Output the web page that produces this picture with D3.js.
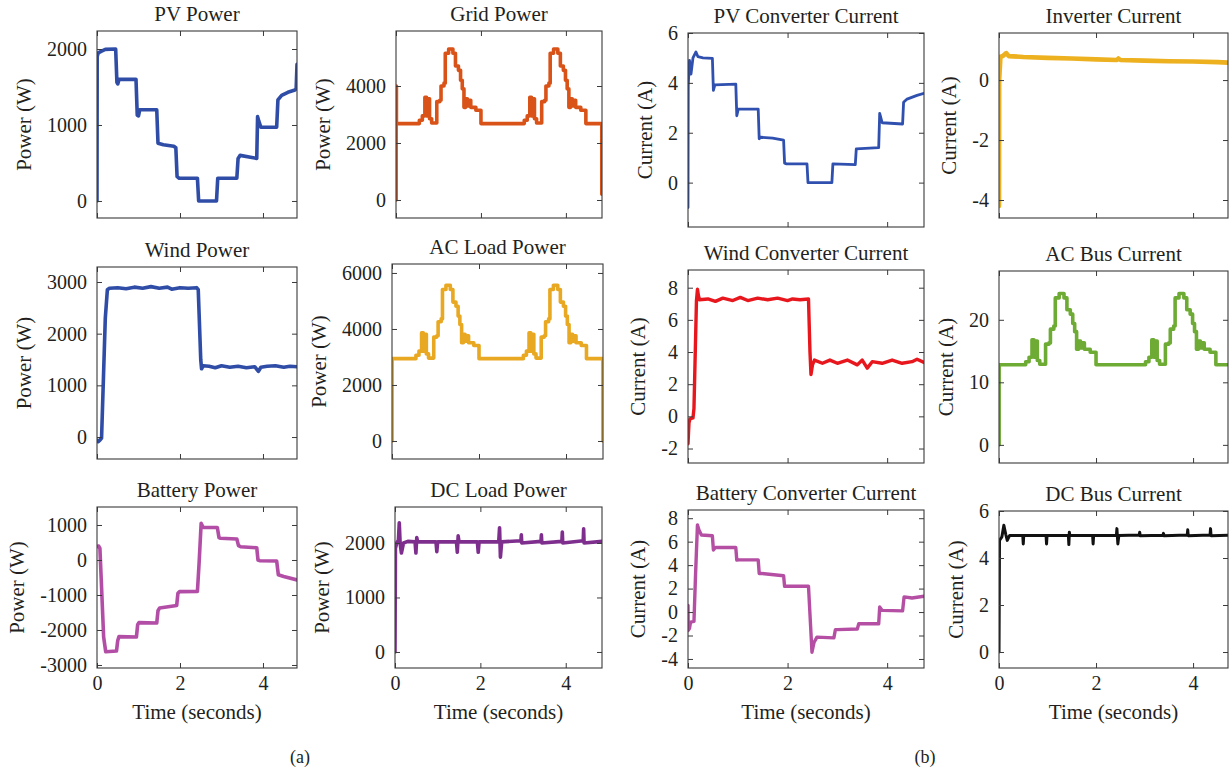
<!DOCTYPE html>
<html>
<head>
<meta charset="utf-8">
<script src="https://cdn.jsdelivr.net/npm/d3@7"></script>
<style>
  body { margin: 0; background: #fff; }
  text { font-family: "Liberation Serif", "Times New Roman", serif; fill: #231f20; }
</style>
</head>
<body>
<svg id="fig" width="1229" height="773"></svg>
<script>
// ---- shared time axis ----
const timeTicks = [0, 2, 4];

// ---- (a) power traces: [time (s), power (W)] ----
const pvPower = [[0,0],[0.005,1900],[0.03,1950],[0.1,1970],[0.2,1995],[0.45,2000],[0.48,1560],[0.5,1540],[0.53,1600],[0.94,1600],[0.97,1130],[1.0,1120],[1.03,1200],[1.44,1200],[1.47,760],[1.6,740],[1.85,720],[1.9,700],[1.93,320],[1.98,300],[2.42,300],[2.45,0],[2.88,0],[2.91,300],[3.37,300],[3.40,560],[3.45,600],[3.85,560],[3.87,1110],[3.90,1050],[3.95,970],[4.33,970],[4.36,1330],[4.45,1390],[4.6,1430],[4.77,1460],[4.80,1480],[4.82,1800]];
const gridPower = [[0,0],[0.003,4000],[0.01,2680],[0.55,2800],[0.62,2950],[0.68,3600],[0.72,2950],[0.75,3550],[0.79,2850],[0.84,2700],[0.96,3450],[1.03,3500],[1.06,4000],[1.13,4100],[1.16,5150],[1.24,5300],[1.34,5150],[1.40,4700],[1.47,4550],[1.52,4200],[1.56,3900],[1.60,3250],[1.64,3550],[1.68,3300],[1.72,3500],[1.76,3250],[1.88,3150],[2.00,2680],[3.02,2800],[3.09,2950],[3.15,3600],[3.19,2950],[3.22,3550],[3.26,2850],[3.31,2700],[3.43,3450],[3.50,3500],[3.53,4000],[3.60,4100],[3.63,5150],[3.71,5300],[3.81,5150],[3.87,4700],[3.94,4550],[3.99,4200],[4.03,3900],[4.07,3250],[4.11,3550],[4.15,3300],[4.19,3500],[4.23,3250],[4.35,3150],[4.47,2680],[4.84,2680],[4.845,200]];
const windPower = [[0,-60],[0.03,-90],[0.08,-50],[0.11,-20],[0.2,2300],[0.25,2850],[0.3,2880],[0.5,2890],[0.7,2870],[0.9,2900],[1.1,2880],[1.3,2910],[1.5,2880],[1.7,2900],[1.8,2860],[2.0,2890],[2.2,2880],[2.4,2890],[2.44,2850],[2.5,1500],[2.52,1320],[2.56,1380],[2.7,1370],[2.85,1340],[3.0,1380],[3.2,1350],[3.4,1370],[3.6,1340],[3.8,1360],[3.89,1270],[3.95,1350],[4.1,1370],[4.3,1380],[4.5,1350],[4.65,1370],[4.82,1360]];
const acLoadPower = [[0,0],[0.003,2940],[0.55,3060],[0.62,3210],[0.68,3860],[0.72,3210],[0.75,3810],[0.79,3110],[0.84,2960],[0.96,3710],[1.03,3760],[1.06,4260],[1.13,4360],[1.16,5410],[1.24,5560],[1.34,5410],[1.40,4960],[1.47,4810],[1.52,4460],[1.56,4160],[1.60,3510],[1.64,3810],[1.68,3560],[1.72,3760],[1.76,3510],[1.88,3410],[2.00,2940],[3.02,3060],[3.09,3210],[3.15,3860],[3.19,3210],[3.22,3810],[3.26,3110],[3.31,2960],[3.43,3710],[3.50,3760],[3.53,4260],[3.60,4360],[3.63,5410],[3.71,5560],[3.81,5410],[3.87,4960],[3.94,4810],[3.99,4460],[4.03,4160],[4.07,3510],[4.11,3810],[4.15,3560],[4.19,3760],[4.23,3510],[4.35,3410],[4.47,2940],[4.84,2940],[4.845,0]];
const batteryPower = [[0,380],[0.04,400],[0.07,330],[0.1,-500],[0.16,-2200],[0.21,-2620],[0.47,-2600],[0.5,-2300],[0.53,-2190],[0.95,-2200],[0.98,-1850],[1.01,-1790],[1.44,-1800],[1.47,-1450],[1.51,-1370],[1.92,-1300],[1.95,-950],[1.99,-904],[2.42,-900],[2.46,-100],[2.51,1047],[2.56,930],[2.9,930],[2.94,640],[2.98,619],[3.37,600],[3.41,410],[3.46,380],[3.85,350],[3.88,0],[3.92,-20],[4.33,-30],[4.37,-420],[4.5,-470],[4.82,-570]];
const dcLoadPower = [[0,0],[0.01,1900],[0.04,2000],[0.08,2050],[0.1,2370],[0.12,2000],[0.15,1815],[0.2,2000],[0.3,2030],[0.47,2020],[0.49,1815],[0.51,2100],[0.53,2020],[0.96,2020],[0.98,1840],[1.0,2020],[1.44,2020],[1.46,1830],[1.48,2130],[1.5,2020],[1.93,2020],[1.95,1830],[1.97,2020],[2.43,2020],[2.45,2280],[2.47,1740],[2.5,2020],[2.95,2040],[2.96,2150],[2.97,2000],[3.42,2030],[3.43,2150],[3.44,2000],[3.91,2030],[3.92,2200],[3.93,2000],[4.41,2040],[4.42,2260],[4.43,2000],[4.85,2030]];

// ---- (b) current traces: [time (s), current (A)] ----
const pvConverterCurrent = [[0,-1.0],[0.005,3.9],[0.03,4.9],[0.06,4.35],[0.1,5.0],[0.16,5.24],[0.2,5.05],[0.3,5.0],[0.49,4.98],[0.51,3.7],[0.54,3.92],[0.96,3.95],[0.98,2.68],[1.01,2.95],[1.41,2.95],[1.43,1.76],[1.46,1.82],[1.7,1.78],[1.92,1.7],[1.94,0.78],[1.98,0.75],[2.39,0.75],[2.41,0],[2.89,0],[2.91,0.75],[3.36,0.72],[3.38,1.35],[3.83,1.4],[3.85,2.78],[3.9,2.4],[4.31,2.35],[4.33,3.22],[4.4,3.35],[4.6,3.5],[4.74,3.58]];
const inverterCurrent = [[0,-4.2],[0.003,0],[0.03,0.78],[0.08,0.8],[0.15,0.9],[0.2,0.8],[0.5,0.77],[1.0,0.74],[1.5,0.72],[2.0,0.69],[2.43,0.67],[2.46,0.72],[2.5,0.67],[3.0,0.65],[3.5,0.63],[4.0,0.62],[4.5,0.60],[4.73,0.58]];
const windConverterCurrent = [[0,-1.7],[0.02,-0.4],[0.04,-0.15],[0.1,-0.1],[0.12,0.5],[0.17,7.2],[0.19,7.9],[0.21,7.5],[0.23,7.25],[0.4,7.3],[0.55,7.15],[0.7,7.35],[0.9,7.2],[1.05,7.4],[1.2,7.2],[1.4,7.35],[1.6,7.25],[1.8,7.35],[2.0,7.2],[2.1,7.3],[2.25,7.25],[2.42,7.3],[2.45,4],[2.47,2.6],[2.5,3.2],[2.54,3.5],[2.7,3.3],[2.85,3.5],[3.0,3.3],[3.2,3.5],[3.4,3.2],[3.5,3.5],[3.6,3.0],[3.7,3.4],[3.9,3.3],[4.1,3.5],[4.3,3.3],[4.5,3.4],[4.6,3.55],[4.74,3.35]];
const acBusCurrent = [[0,0],[0.003,12.8],[0.55,13.3],[0.62,14.0],[0.68,16.8],[0.72,14.0],[0.75,16.6],[0.79,13.5],[0.84,12.9],[0.96,16.1],[1.03,16.3],[1.06,18.5],[1.13,19.0],[1.16,23.5],[1.24,24.2],[1.34,23.5],[1.40,21.6],[1.47,20.9],[1.52,19.4],[1.56,18.1],[1.60,15.3],[1.64,16.6],[1.68,15.5],[1.72,16.3],[1.76,15.3],[1.88,14.8],[2.00,12.8],[3.02,13.3],[3.09,14.0],[3.15,16.8],[3.19,14.0],[3.22,16.6],[3.26,13.5],[3.31,12.9],[3.43,16.1],[3.50,16.3],[3.53,18.5],[3.60,19.0],[3.63,23.5],[3.71,24.2],[3.81,23.5],[3.87,21.6],[3.94,20.9],[3.99,19.4],[4.03,18.1],[4.07,15.3],[4.11,16.6],[4.15,15.5],[4.19,16.3],[4.23,15.3],[4.35,14.8],[4.47,12.8],[4.73,12.8]];
const batteryConverterCurrent = [[0,0.57],[0.005,-1.57],[0.03,-1.4],[0.05,-0.86],[0.12,-0.8],[0.15,3],[0.19,7.43],[0.22,7.0],[0.27,6.57],[0.49,6.5],[0.51,5.29],[0.55,5.5],[0.96,5.5],[0.98,4.43],[1.02,4.45],[1.41,4.45],[1.43,3.29],[1.47,3.3],[1.92,3.1],[1.94,2.2],[1.98,2.2],[2.42,2.2],[2.46,-1],[2.49,-3.43],[2.53,-2.6],[2.59,-2.14],[2.93,-2.2],[2.96,-1.51],[3.0,-1.5],[3.4,-1.45],[3.43,-1.0],[3.83,-1.0],[3.85,0.43],[3.9,0.14],[4.31,0.1],[4.34,1.29],[4.5,1.2],[4.74,1.35]];
const dcBusCurrent = [[0,0],[0.01,4.75],[0.06,4.9],[0.1,5.39],[0.14,5.0],[0.17,4.75],[0.22,4.96],[0.49,4.96],[0.5,4.6],[0.51,4.96],[0.97,4.96],[0.98,4.6],[0.99,4.96],[1.43,4.96],[1.44,4.57],[1.45,5.1],[1.46,4.96],[1.93,4.96],[1.94,4.6],[1.95,4.96],[2.42,4.96],[2.43,5.25],[2.45,4.6],[2.47,4.96],[2.89,4.98],[2.9,5.1],[2.91,4.95],[3.38,4.97],[3.39,5.05],[3.4,4.95],[3.88,4.98],[3.89,5.2],[3.9,4.95],[4.35,4.98],[4.36,5.25],[4.37,4.95],[4.73,4.97]];

// ---- y tick values ----
const pvPowerTicks = [0, 1000, 2000];
const gridPowerTicks = [0, 2000, 4000];
const windPowerTicks = [0, 1000, 2000, 3000];
const acLoadPowerTicks = [0, 2000, 4000, 6000];
const batteryPowerTicks = [-3000, -2000, -1000, 0, 1000];
const dcLoadPowerTicks = [0, 1000, 2000];
const pvConverterTicks = [0, 2, 4, 6];
const inverterTicks = [-4, -2, 0];
const windConverterTicks = [-2, 0, 2, 4, 6, 8];
const acBusTicks = [0, 10, 20];
const batteryConverterTicks = [-4, -2, 0, 2, 4, 6, 8];
const dcBusTicks = [0, 2, 4, 6];

// ---- panel layout: box = [left, top, right, bottom] in px ----
const panels = [
  { title: "PV Power", data: pvPower, ticks: pvPowerTicks, ylabel: "Power (W)", color: "#2f4da6", box: [97, 31, 297, 218], xMax: 4.82, yDom: [-224, 2237], sw: 3.6 },
  { title: "Grid Power", data: gridPower, ticks: gridPowerTicks, ylabel: "Power (W)", color: "#d95319", box: [396, 31, 602, 218], xMax: 4.85, yDom: [-632, 5930], sw: 3.6, step: true },
  { title: "PV Converter Current", data: pvConverterCurrent, ticks: pvConverterTicks, ylabel: "Current (A)", color: "#3050b0", box: [688, 33, 924, 227], xMax: 4.74, yDom: [-1.78, 6.0], sw: 2.8 },
  { title: "Inverter Current", data: inverterCurrent, ticks: inverterTicks, ylabel: "Current (A)", color: "#edb120", box: [999, 33, 1228, 218], xMax: 4.72, yDom: [-4.6, 1.57], sw: 4.6 },
  { title: "Wind Power", data: windPower, ticks: windPowerTicks, ylabel: "Power (W)", color: "#2f4da6", box: [97, 267, 297, 459], xMax: 4.82, yDom: [-425, 3290], sw: 3.6 },
  { title: "AC Load Power", data: acLoadPower, ticks: acLoadPowerTicks, ylabel: "Power (W)", color: "#e9a822", box: [392, 264, 603, 459], xMax: 4.85, yDom: [-643, 6320], sw: 3.6, step: true },
  { title: "Wind Converter Current", data: windConverterCurrent, ticks: windConverterTicks, ylabel: "Current (A)", color: "#e8171e", box: [688, 270, 924, 463], xMax: 4.74, yDom: [-2.9, 9.1], sw: 3.4 },
  { title: "AC Bus Current", data: acBusCurrent, ticks: acBusTicks, ylabel: "Current (A)", color: "#6eab35", box: [999, 271, 1228, 463], xMax: 4.72, yDom: [-2.9, 27.8], sw: 3.6, step: true },
  { title: "Battery Power", data: batteryPower, ticks: batteryPowerTicks, ylabel: "Power (W)", color: "#b34ea6", box: [97, 507, 297, 668], xMax: 4.82, yDom: [-3086, 1514], sw: 3.6, bottom: true },
  { title: "DC Load Power", data: dcLoadPower, ticks: dcLoadPowerTicks, ylabel: "Power (W)", color: "#7e2f8e", box: [395, 507, 602, 668], xMax: 4.85, yDom: [-294, 2660], sw: 3.6, bottom: true },
  { title: "Battery Converter Current", data: batteryConverterCurrent, ticks: batteryConverterTicks, ylabel: "Current (A)", color: "#b54fa3", box: [688, 510, 924, 668], xMax: 4.74, yDom: [-4.77, 8.7], sw: 3.4, bottom: true },
  { title: "DC Bus Current", data: dcBusCurrent, ticks: dcBusTicks, ylabel: "Current (A)", color: "#111111", box: [999, 511, 1228, 668], xMax: 4.72, yDom: [-0.68, 6.0], sw: 3.0, bottom: true }
];

const svg = d3.select("#fig");
svg.append("rect").attr("width", 1229).attr("height", 773).attr("fill", "#fff");

const axisColor = "#3a3a3a";
const fmt = d => String(d); // plain hyphen minus

panels.forEach((p, i) => {
  const [x0, y0, x1, y1] = p.box;
  const x = d3.scaleLinear().domain([0, p.xMax]).range([x0, x1]);
  const y = d3.scaleLinear().domain(p.yDom).range([y1, y0]);
  const g = svg.append("g");

  // clip region for the trace
  const clipId = "clip" + i;
  svg.append("clipPath").attr("id", clipId)
    .append("rect").attr("x", x0).attr("y", y0).attr("width", x1 - x0).attr("height", y1 - y0);

  // trace
  const line = d3.line()
    .x(d => x(d[0])).y(d => y(d[1]))
    .curve(p.step ? d3.curveStepAfter : d3.curveLinear);
  g.append("path")
    .datum(p.data)
    .attr("clip-path", `url(#${clipId})`)
    .attr("fill", "none")
    .attr("stroke", p.color)
    .attr("stroke-width", p.sw)
    .attr("stroke-linejoin", "round")
    .attr("stroke-linecap", "round")
    .attr("d", line);

  // axes with inward ticks on all four sides
  const left = g.append("g").attr("transform", `translate(${x0},0)`)
    .call(d3.axisLeft(y).tickValues(p.ticks).tickSize(-5).tickSizeOuter(0).tickPadding(10).tickFormat(fmt));
  g.append("g").attr("transform", `translate(${x1},0)`)
    .call(d3.axisRight(y).tickValues(p.ticks).tickSize(-5).tickSizeOuter(0).tickFormat(""));
  g.append("g").attr("transform", `translate(0,${y1})`)
    .call(d3.axisBottom(x).tickValues(timeTicks).tickSize(-5).tickSizeOuter(0).tickPadding(8)
      .tickFormat(p.bottom ? fmt : ""));
  g.append("g").attr("transform", `translate(0,${y0})`)
    .call(d3.axisTop(x).tickValues(timeTicks).tickSize(-5).tickSizeOuter(0).tickFormat(""));

  g.selectAll(".domain").remove();
  g.selectAll(".tick line").attr("stroke", axisColor).attr("stroke-width", 1);
  g.selectAll(".tick text").attr("font-size", 20).attr("fill", "#231f20")
    .style("font-family", '"Liberation Serif", serif');

  // frame
  g.append("rect").attr("x", x0).attr("y", y0).attr("width", x1 - x0).attr("height", y1 - y0)
    .attr("fill", "none").attr("stroke", axisColor).attr("stroke-width", 1.1);

  // title
  g.append("text").attr("x", (x0 + x1) / 2).attr("y", y0 - 10)
    .attr("text-anchor", "middle").attr("font-size", 21).text(p.title);

  // y label placed left of the widest tick label
  let maxW = 0;
  left.selectAll(".tick text").each(function () { maxW = Math.max(maxW, this.getComputedTextLength()); });
  const lx = x0 - 10 - maxW - 16;
  g.append("text")
    .attr("transform", `translate(${lx},${(y0 + y1) / 2}) rotate(-90)`)
    .attr("text-anchor", "middle").attr("font-size", 21).text(p.ylabel);

  if (p.bottom) {
    g.append("text").attr("x", (x0 + x1) / 2).attr("y", y1 + 51)
      .attr("text-anchor", "middle").attr("font-size", 21).text("Time (seconds)");
  }
});

// sub-figure captions
svg.append("text").attr("x", 300).attr("y", 763).attr("text-anchor", "middle").attr("font-size", 18).text("(a)");
svg.append("text").attr("x", 925).attr("y", 763).attr("text-anchor", "middle").attr("font-size", 18).text("(b)");
</script>
</body>
</html>
